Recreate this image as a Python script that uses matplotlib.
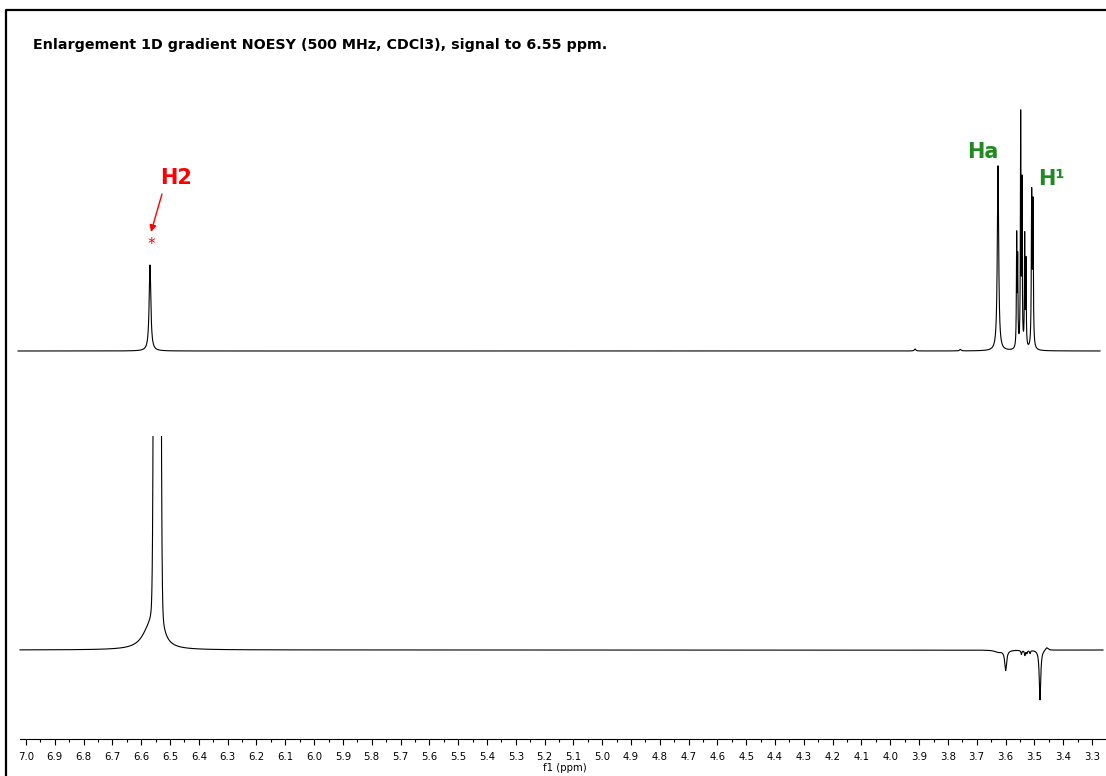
import numpy as np
import matplotlib
matplotlib.use("Agg")
import matplotlib.pyplot as plt
from matplotlib.lines import Line2D
from matplotlib.patches import Rectangle
from matplotlib.ticker import FixedLocator, FormatStrFormatter

# peak tables: centre (ppm), intensity (a.u.), half width (ppm)
# top trace: 1D gradient NOESY, selective excitation
top_ppm = [6.5696, 3.914, 3.757, 3.6262, 3.5614, 3.5579, 3.5475, 3.5429,
           3.5336, 3.5291, 3.5093, 3.5048]
top_int = [86, 2, 1.5, 185, 110, 85, 230, 160, 110, 85, 150, 140]
top_hw = [0.0035, 0.003, 0.003, 0.0028, 0.0011, 0.0011, 0.0011, 0.0011,
          0.0011, 0.0011, 0.0014, 0.0014]

# bottom trace: reference spectrum, lorentzian lines
bot_ppm = [6.5444, 6.575, 3.625, 3.5995, 3.545, 3.533, 3.526, 3.515, 3.4804, 3.457]
bot_int = [100, 14, -2, -20, -4, -5, -3, -3, -50, 3]
bot_hw = [0.012, 0.03, 0.015, 0.004, 0.002, 0.002, 0.002, 0.002, 0.003, 0.006]
# gaussian core of the big singlet
core_ppm = 6.5444
core_int = 6000
core_sd = 0.0055

ticks_major = np.round(np.arange(3.3, 7.01, 0.1), 1)
ticks_minor = np.round(np.arange(3.35, 7.0, 0.1), 2)

title = "Enlargement 1D gradient NOESY (500 MHz, CDCl3), signal to 6.55 ppm."


def lorentz(x, c, h, w):
    return h * w**2 / (w**2 + (x - c)**2)


def spectrum(x, centres, heights, widths):
    y = np.zeros_like(x)
    for c, h, w in zip(centres, heights, widths):
        y += lorentz(x, c, h, w)
    return y


def px(xp):
    # page x position -> ppm
    return 7.0 - (xp - 26) / 288.1


W, H = 1106, 776
fig = plt.figure(figsize=(W / 100, H / 100), dpi=100)
ax = fig.add_axes([0, 37 / H, 1, 739 / H])
ax.set_xlim(px(0), px(W))
ax.set_ylim(739, 0)   # y counted downwards from the top of the page

# top trace
x_top = np.linspace(px(18), px(1100), 30000)
y_top = 351 - spectrum(x_top, top_ppm, top_int, top_hw)
ax.plot(x_top, y_top, color="black", lw=0.8)

# bottom trace, cut off at the top of its box
x_bot = np.linspace(px(20), px(1103), 60000)
i_bot = spectrum(x_bot, bot_ppm, bot_int, bot_hw)
i_bot += core_int * np.exp(-(x_bot - core_ppm)**2 / (2 * core_sd**2))
y_bot = 650 - i_bot
line_bot, = ax.plot(x_bot, y_bot, color="black", lw=0.8)
box = Rectangle((px(0), 436), px(W) - px(0), 300, transform=ax.transData)
line_bot.set_clip_path(box)

# axis
for s in ["top", "left", "right"]:
    ax.spines[s].set_visible(False)
ax.spines["bottom"].set_bounds(px(20), px(W))
ax.spines["bottom"].set_linewidth(0.8)
ax.yaxis.set_visible(False)
ax.set_xticks(ticks_major)
ax.xaxis.set_major_formatter(FormatStrFormatter("%.1f"))
ax.xaxis.set_minor_locator(FixedLocator(ticks_minor))
ax.tick_params(axis="x", which="major", length=4.5, width=0.8, labelsize=7.3, pad=4.5)
ax.tick_params(axis="x", which="minor", length=2.5, width=0.8)
ax.set_xlabel("f1 (ppm)", fontsize=7.3)
ax.xaxis.set_label_coords(565 / W, -24 / 739)

# labels
ax.text(px(33), 45, title, fontsize=10.3, fontweight="bold",
        ha="left", va="center")
ax.text(px(176), 178, "H2", color="#ff0000", fontsize=15,
        fontweight="bold", ha="center", va="center")
ax.annotate("", xy=(px(151), 232), xytext=(px(162), 194),
            arrowprops=dict(arrowstyle="-|>", color="#ff0000", lw=1,
                            mutation_scale=10, shrinkA=0, shrinkB=0))
ax.text(px(151), 244, "*", color="#ff0000", fontsize=11,
        ha="center", va="center")
ax.text(px(983), 152, "Ha", color="#1f8a1f", fontsize=15,
        fontweight="bold", ha="center", va="center")
ax.text(px(1051), 179, "H¹", color="#1f8a1f", fontsize=15,
        fontweight="bold", ha="center", va="center")

# page frame
fig.add_artist(Line2D([6 / W, 6 / W, 1], [0, 1 - 10 / H, 1 - 10 / H],
                      transform=fig.transFigure, color="black", lw=1.6))

fig.savefig("out.png", dpi=100)
